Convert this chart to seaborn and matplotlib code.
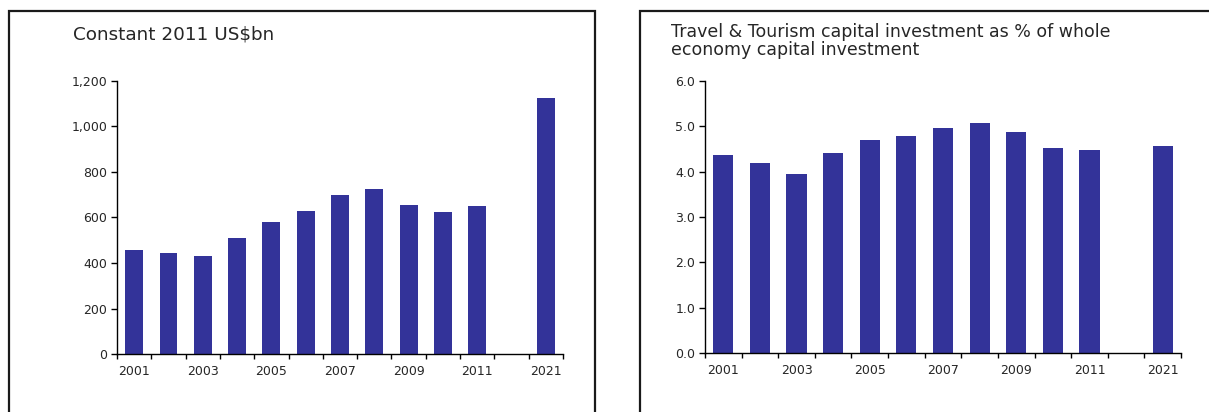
import matplotlib
matplotlib.use("Agg")
import matplotlib.pyplot as plt
from matplotlib.patches import Polygon
import seaborn as sns
import pandas as pd

# Years shown on the category axis; a blank slot separates the 2021 forecast
years = ["2001", "2002", "2003", "2004", "2005", "2006", "2007", "2008",
         "2009", "2010", "2011", "2021"]
gap_label = " "
slot_order = years[:11] + [gap_label] + years[11:]
shown_labels = ["2001", "2003", "2005", "2007", "2009", "2011", "2021"]

# Capital investment, constant 2011 US$bn
investment_bn = [458, 442, 430, 508, 580, 629, 701, 727, 657, 623, 651, 1125]

# Share of whole economy capital investment, %
investment_share = [4.36, 4.19, 3.94, 4.41, 4.69, 4.78, 4.97, 5.08, 4.88,
                    4.53, 4.47, 4.56]

left_title = "Constant 2011 US$bn"
right_title = ("Travel & Tourism capital investment as % of whole\n"
               "economy capital investment")

left_ticks = [0, 200, 400, 600, 800, 1000, 1200]
right_ticks = [0.0, 1.0, 2.0, 3.0, 4.0, 5.0, 6.0]

bar_color = "#333399"
text_color = "#262626"

sns.set_theme(style="white")
plt.rcParams["font.family"] = ["DejaVu Sans"]

fig = plt.figure(figsize=(12.09, 4.12), dpi=100)
fig.patch.set_facecolor("white")


def draw_panel(ax, values, yticks, fmt, width):
    df = pd.DataFrame({"year": years, "value": values})
    sns.barplot(data=df, x="year", y="value", order=slot_order,
                color=bar_color, saturation=1, width=width, ax=ax,
                edgecolor="none")
    n = len(slot_order)
    ax.set_xlim(-0.5, n - 0.5)
    ax.set_ylim(yticks[0], yticks[-1])
    ax.set_yticks(yticks)
    ax.set_yticklabels([fmt(v) for v in yticks])
    centers = [slot_order.index(y) for y in shown_labels]
    ax.set_xticks(centers)
    ax.set_xticklabels(shown_labels)
    ax.set_xticks([i - 0.5 for i in range(n + 1)], minor=True)
    ax.tick_params(axis="x", which="major", bottom=False, length=0, pad=8,
                   labelsize=9, labelcolor=text_color)
    ax.tick_params(axis="x", which="minor", bottom=True, length=3.5, width=1,
                   direction="out", color="black")
    ax.tick_params(axis="y", left=True, length=4, width=1, direction="out",
                   color="black", pad=3, labelsize=9, labelcolor=text_color)
    ax.set_xlabel("")
    ax.set_ylabel("")
    for side in ("top", "right"):
        ax.spines[side].set_visible(False)
    for side in ("left", "bottom"):
        ax.spines[side].set_color("black")
        ax.spines[side].set_linewidth(1.0)
    ax.set_facecolor("white")


W, H = 1209.0, 412.0

ax_left = fig.add_axes([117 / W, 1 - 354 / H, (563 - 117) / W, (354 - 81) / H])
draw_panel(ax_left, investment_bn, left_ticks, lambda v: f"{v:,.0f}", 0.52)

ax_right = fig.add_axes([705 / W, 1 - 353 / H, (1181 - 705) / W, (353 - 81) / H])
draw_panel(ax_right, investment_share, right_ticks, lambda v: f"{v:.1f}", 0.55)

# Panel frames (open at the bottom, and at the right for the second panel)
frame_kw = dict(closed=False, fill=False, edgecolor="#1a1a1a", linewidth=1.6,
                transform=fig.transFigure)
fig.add_artist(Polygon([(9 / W, -0.05), (9 / W, 1 - 11 / H),
                        (595 / W, 1 - 11 / H), (595 / W, -0.05)], **frame_kw))
fig.add_artist(Polygon([(640 / W, -0.05), (640 / W, 1 - 11 / H),
                        (1.05, 1 - 11 / H)], **frame_kw))

fig.text(73 / W, 1 - 40 / H, left_title, fontsize=13.2, color=text_color,
         ha="left", va="baseline")
fig.text(671 / W, 1 - 23 / H, right_title, fontsize=12.5, color=text_color,
         ha="left", va="top", linespacing=1.0)

fig.savefig("out.png", dpi=100, facecolor="white")
